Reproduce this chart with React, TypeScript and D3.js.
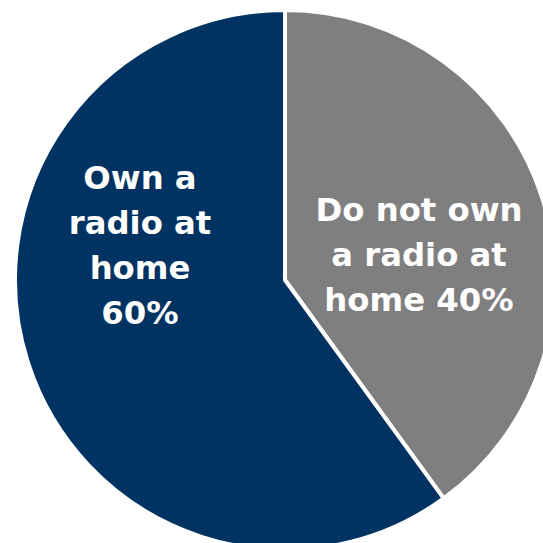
import React from "react";
import * as d3 from "d3";

const categories = ["Do not own a radio at home", "Own a radio at home"];
const values = [40, 60];
const colors = ["#7f7f7f", "#003361"];
const labelLines = [
  ["Do not own", "a radio at", "home 40%"],
  ["Own a", "radio at", "home", "60%"],
];
// label anchor offsets relative to pie center (layout only)
const labelCenters = [
  [134, -27],
  [-145, -37],
];

export default function App() {
  const W = 543, H = 543;
  const cx = 285, cy = 280, r = 270;
  const pie = d3.pie<number>().sort(null).value((d) => d)(values);
  const arc = d3.arc<d3.PieArcDatum<number>>().innerRadius(0).outerRadius(r);
  const lineH = 45;
  return (
    <svg width={W} height={H} style={{ position: "absolute", left: 0, top: 0, display: "block" }}>
      <rect width={W} height={H} fill="#ffffff" />
      <g transform={`translate(${cx},${cy})`}>
        {pie.map((p, i) => (
          <path key={categories[i]} d={arc(p) || ""} fill={colors[i]} stroke="#ffffff" strokeWidth={4} strokeLinejoin="round" />
        ))}
        {labelLines.map((lines, i) => {
          const [lx, ly] = labelCenters[i];
          const n = lines.length;
          return (
            <text key={i} textAnchor="middle" fill="#ffffff" fontFamily="'DejaVu Sans', sans-serif" fontWeight="bold" fontSize={32.3}>
              {lines.map((t, j) => (
                <tspan key={j} x={lx} y={ly + (j - (n - 1) / 2) * lineH + 13}>{t}</tspan>
              ))}
            </text>
          );
        })}
      </g>
    </svg>
  );
}
